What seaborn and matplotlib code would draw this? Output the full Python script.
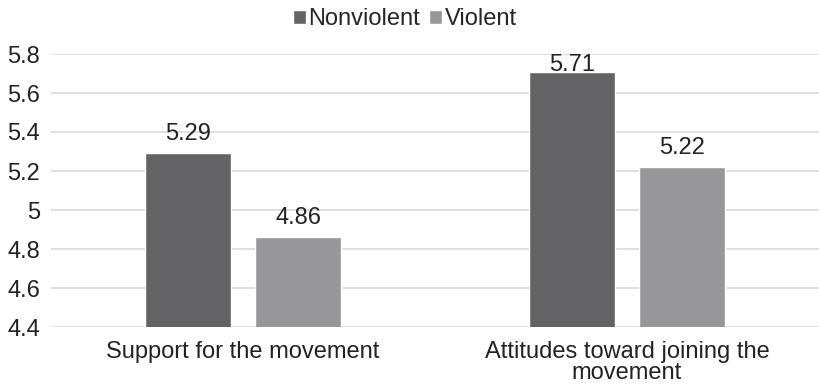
import matplotlib
matplotlib.use("Agg")
import matplotlib.pyplot as plt
import seaborn as sns
import pandas as pd

categories = ["Support for the movement", "Attitudes toward joining the\nmovement"]
series = ["Nonviolent", "Violent"]
nonviolent = [5.29, 5.71]
violent = [4.86, 5.22]
yticks = [4.4, 4.6, 4.8, 5.0, 5.2, 5.4, 5.6, 5.8]
ytick_labels = ["4.4", "4.6", "4.8", "5", "5.2", "5.4", "5.6", "5.8"]
colors = ["#646466", "#97979a"]

df = pd.DataFrame({
    "category": categories * 2,
    "group": [series[0]] * 2 + [series[1]] * 2,
    "value": nonviolent + violent,
})

sns.set_theme(style="white")
plt.rcParams["font.family"] = ["Liberation Sans", "DejaVu Sans"]
FS = 17
TXT = "#222222"

fig = plt.figure(figsize=(8.19, 3.90), dpi=100)
ax = fig.add_axes([51 / 819, 1 - 327 / 390, 1 - 51 / 819, (327 - 54) / 390])

sns.barplot(data=df, x="category", y="value", hue="group", palette=colors,
            width=0.573, gap=0.218, ax=ax, legend=True, saturation=1)

ax.set_ylim(4.4, 5.8)
ax.set_yticks(yticks)
ax.set_yticklabels(ytick_labels, fontsize=FS, color=TXT)
ax.tick_params(axis="x", labelsize=FS, colors=TXT, length=0, pad=10)
ax.tick_params(axis="y", length=0, pad=8)
for lbl in ax.get_xticklabels():
    lbl.set_linespacing(0.95)
ax.set_xlabel("")
ax.set_ylabel("")
ax.yaxis.grid(True, color="#d9d9d9", linewidth=1.2)
ax.set_axisbelow(True)
for s in ax.spines.values():
    s.set_visible(False)

# value labels above each bar; keep them inside the plot area near the top
for cont, vals in zip(ax.containers, [nonviolent, violent]):
    for patch, v in zip(cont.patches, vals):
        x = patch.get_x() + patch.get_width() / 2
        offset = 13 if v < 5.6 else 1
        ax.annotate(f"{v:.2f}", (x, v), xytext=(0, offset), textcoords="offset pixels",
                    ha="center", va="baseline", fontsize=FS, color=TXT,
                    annotation_clip=False)

handles, labels = ax.get_legend_handles_labels()
ax.legend(handles, labels, loc="center", bbox_to_anchor=((405 - 51) / 768, 1 + (54 - 19) / 273),
          ncol=2, frameon=False, fontsize=FS, handlelength=0.55, handleheight=0.55,
          handletextpad=0.13, columnspacing=0.38, borderaxespad=0, borderpad=0)

fig.savefig("out.png", dpi=100)
